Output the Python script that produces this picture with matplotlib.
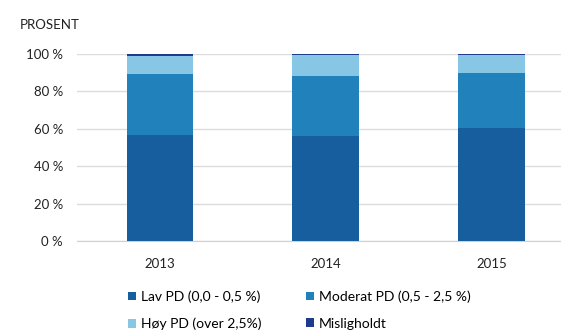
import numpy as np
import matplotlib
matplotlib.use('Agg')
import matplotlib.pyplot as plt
from matplotlib.patches import Patch

years = ['2013', '2014', '2015']
lav = [56.7, 56.3, 60.4]
moderat = [32.6, 32.0, 29.6]
hoy = [9.7, 11.4, 9.3]
mislig = [1.0, 0.3, 0.7]

labels = ['Lav PD (0,0 - 0,5 %)', 'Moderat PD (0,5 - 2,5 %)',
          'Høy PD (over 2,5%)', 'Misligholdt']
colors = ['#175e9f', '#2181bb', '#88c6e5', '#1f3b8c']

plt.rcParams['font.family'] = ['Lato', 'DejaVu Sans']

fig = plt.figure(figsize=(5.61, 3.33), dpi=100)
ax = fig.add_axes([0.137, 0.276, 0.863, 0.562])

x = np.arange(len(years))
bottom = np.zeros(len(years))
for vals, col in zip([lav, moderat, hoy, mislig], colors):
    ax.bar(x, vals, width=0.4, bottom=bottom, color=col, zorder=3)
    bottom += np.array(vals)

ax.set_xlim(-0.5, 2.42)
ax.set_ylim(0, 100)
ax.set_yticks(range(0, 101, 20))
ax.set_yticklabels([f'{v} %' for v in range(0, 101, 20)])
ax.set_xticks(x)
ax.set_xticklabels(years)
ax.grid(axis='y', color='#dcdcdc', linewidth=1, zorder=0)
for s in ['top', 'right', 'left']:
    ax.spines[s].set_visible(False)
ax.spines['bottom'].set_color('#d0d0d0')
ax.tick_params(axis='both', length=0, labelsize=9.5, colors='#222222')
ax.tick_params(axis='x', pad=12)
ax.tick_params(axis='y', pad=10)

fig.text(0.036, 0.925, 'PROSENT', fontsize=9.5, color='#222222', va='center')

# legend fills column-wise, so order handles to read row by row
handles = [Patch(facecolor=c, label=l) for c, l in zip(colors, labels)]
order = [0, 2, 1, 3]
fig.legend(handles=[handles[i] for i in order], ncol=2, loc='upper left',
           bbox_to_anchor=(0.228, 0.128), frameon=False, fontsize=10,
           handlelength=0.6, handleheight=0.6, handletextpad=0.35,
           columnspacing=3.2, labelspacing=1.05, borderpad=0, borderaxespad=0)

fig.savefig('out.png', dpi=100)
